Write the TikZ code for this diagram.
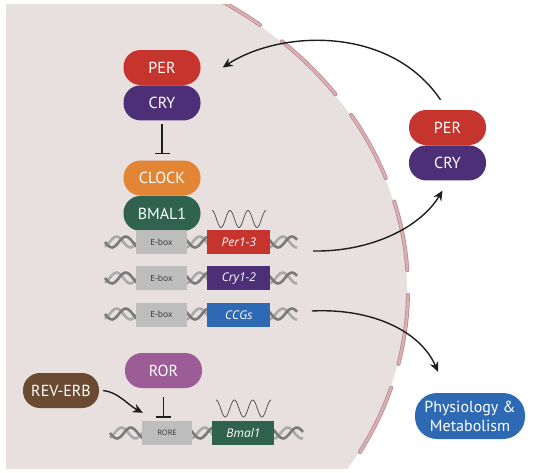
\documentclass[tikz,border=0pt]{standalone}
\usepackage{fontspec}
\setmainfont{PT Sans}
\newfontfamily\genefont{Open Sans}
\usepackage{xcolor}
\usepackage{tikz}
\usetikzlibrary{arrows.meta,positioning}
\definecolor{ckCell}{RGB}{232,223,223}
\definecolor{ckMembrane}{RGB}{218,176,178}
\definecolor{ckMembraneEdge}{RGB}{184,140,144}
\definecolor{ckRed}{RGB}{197,52,45}
\definecolor{ckPurple}{RGB}{77,47,120}
\definecolor{ckOrange}{RGB}{226,134,53}
\definecolor{ckGreen}{RGB}{47,99,80}
\definecolor{ckBlue}{RGB}{46,105,180}
\definecolor{ckMauve}{RGB}{156,92,150}
\definecolor{ckBrown}{RGB}{107,74,52}
\definecolor{ckBox}{RGB}{189,189,189}
\definecolor{ckText}{RGB}{51,51,51}
\definecolor{ckLine}{RGB}{30,30,30}
\definecolor{ckHelixDark}{RGB}{122,122,122}
\definecolor{ckHelixLight}{RGB}{170,170,170}
\definecolor{ckWave}{RGB}{70,70,70}

\begin{document}
\begin{tikzpicture}[x=1pt,y=-1pt,
    pill/.style={rounded corners=17pt, minimum width=77pt, minimum height=35pt, inner sep=0pt,
        text=white, font=\fontsize{16}{18}\selectfont},
    boxlabel/.style={fill=ckBox, minimum width=51pt, minimum height=24pt, inner sep=0pt,
        text=ckText, font=\genefont\fontsize{8.5}{10}\selectfont},
    genebox/.style={minimum width=63pt, minimum height=24pt, inner sep=0pt,
        text=white, font=\genefont\itshape\fontsize{12}{14}\selectfont},
    inhib/.style={draw=ckLine, line width=1.4pt, -{Bar[width=15pt]}},
    flow/.style={draw=ckLine, line width=1.4pt, -{Stealth[length=10pt,width=9pt]}},
    membraneEdge/.style={ckMembraneEdge, line width=4pt, line cap=round},
    membraneCore/.style={ckMembrane, line width=2.4pt, line cap=round},
    helixA/.style={ckHelixDark, line width=2.6pt, smooth, samples=80},
    helixB/.style={ckHelixLight, line width=2.6pt, smooth, samples=80},
    wave/.style={ckWave, line width=0.7pt, smooth, samples=80}]
    \useasboundingbox (0,0) rectangle (538,472);

    % cell and membrane
    \begin{scope}
        \clip (6,4) rectangle (538,468);
        \fill[ckCell] (0,290) ellipse [x radius=407, y radius=343];
        \foreach \a in {-62,-46.3,-30.6,-14.9,0.8,16.5} {
            \draw[membraneEdge] (0,290) ++(\a:408 and 344) arc[start angle=\a, delta angle=11.6, x radius=408, y radius=344];
            \draw[membraneCore] (0,290) ++(\a:408 and 344) arc[start angle=\a, delta angle=11.6, x radius=408, y radius=344];
        }
    \end{scope}

    % DNA strands
    \draw[helixB, domain=105:297] plot (\x,{242+5.5*sin(13*(\x-105)+120)});
    \draw[helixA, domain=105:297] plot (\x,{242+5.5*sin(13*(\x-105))});
    \draw[helixB, domain=105:297] plot (\x,{278+5.5*sin(13*(\x-105)+120)});
    \draw[helixA, domain=105:297] plot (\x,{278+5.5*sin(13*(\x-105))});
    \draw[helixB, domain=105:297] plot (\x,{314+5.5*sin(13*(\x-105)+120)});
    \draw[helixA, domain=105:297] plot (\x,{314+5.5*sin(13*(\x-105))});
    \draw[helixB, domain=110:303] plot (\x,{433+5.5*sin(13*(\x-110)+120)});
    \draw[helixA, domain=110:303] plot (\x,{433+5.5*sin(13*(\x-110))});

    % clock proteins in the nucleus
    \node[pill, fill=ckRed] (perL) at (162,67.5) {PER};
    \node[pill, fill=ckPurple, below=0pt of perL] (cryL) {CRY};
    \node[pill, fill=ckOrange] (clock) at (162,178) {CLOCK};
    \node[pill, fill=ckGreen, below=0pt of clock] (bmal) {BMAL1};

    % E-box genes
    \node[boxlabel] (ebox1) at (161.5,242) {E-box};
    \node[genebox, fill=ckRed, right=20pt of ebox1] (per13) {Per1-3};
    \node[boxlabel, below=12pt of ebox1] (ebox2) {E-box};
    \node[genebox, fill=ckPurple, right=20pt of ebox2] (cry12) {Cry1-2};
    \node[boxlabel, below=12pt of ebox2] (ebox3) {E-box};
    \node[genebox, fill=ckBlue, right=20pt of ebox3] (ccgs) {CCGs};
    \draw[wave, domain=212:266] plot (\x,{219-8.5*cos(20*(\x-212))});

    % RORE loop
    \node[pill, fill=ckMauve] (ror) at (163.5,370.5) {ROR};
    \node[pill, fill=ckBrown, minimum width=76pt] (reverb) at (61,390.5) {REV-ERB};
    \node[boxlabel, minimum width=50pt, font=\genefont\fontsize{7.5}{9}\selectfont] (rore) at (167,433) {RORE};
    \node[genebox, fill=ckGreen, minimum width=62pt, right=20pt of rore] (bmalg) {Bmal1};
    \draw[wave, domain=216:271] plot (\x,{408.5-8.5*cos(19.6*(\x-216))});

    % cytoplasm
    \node[pill, fill=ckRed] (perR) at (447.5,127.5) {PER};
    \node[pill, fill=ckPurple, below=0pt of perR] (cryR) {CRY};
    \node[pill, fill=ckBlue, minimum width=110pt, minimum height=46pt, rounded corners=22pt, align=center,
        font=\fontsize{16}{19}\selectfont] (phys) at (470,416) {Physiology \&\\Metabolism};

    % repression
    \draw[inhib, shorten <=3pt, shorten >=6pt] (cryL) -- (clock);
    \draw[inhib, shorten <=9pt, shorten >=3pt] (ror.south) -- (ror.south |- rore.north);

    % transport and output
    \coordinate (perOut) at (313,251);
    \coordinate (ccgOut) at (312,311);
    \draw[flow] ([xshift=-7pt,yshift=10pt]perR.north) .. controls (390,25) and (280,30) .. ([xshift=22pt]perL.east);
    \draw[flow] (perOut) .. controls (370,252) and (420,228) .. ([xshift=-5pt,yshift=-10pt]cryR.south);
    \draw[flow] (ccgOut) .. controls (370,308) and (420,330) .. ([xshift=-32pt,yshift=21pt]phys.north);
    \draw[flow] ([xshift=4pt]reverb.east) .. controls (118,392) and (128,405) .. ([xshift=1pt,yshift=8pt]rore.north west);
\end{tikzpicture}
\end{document}
